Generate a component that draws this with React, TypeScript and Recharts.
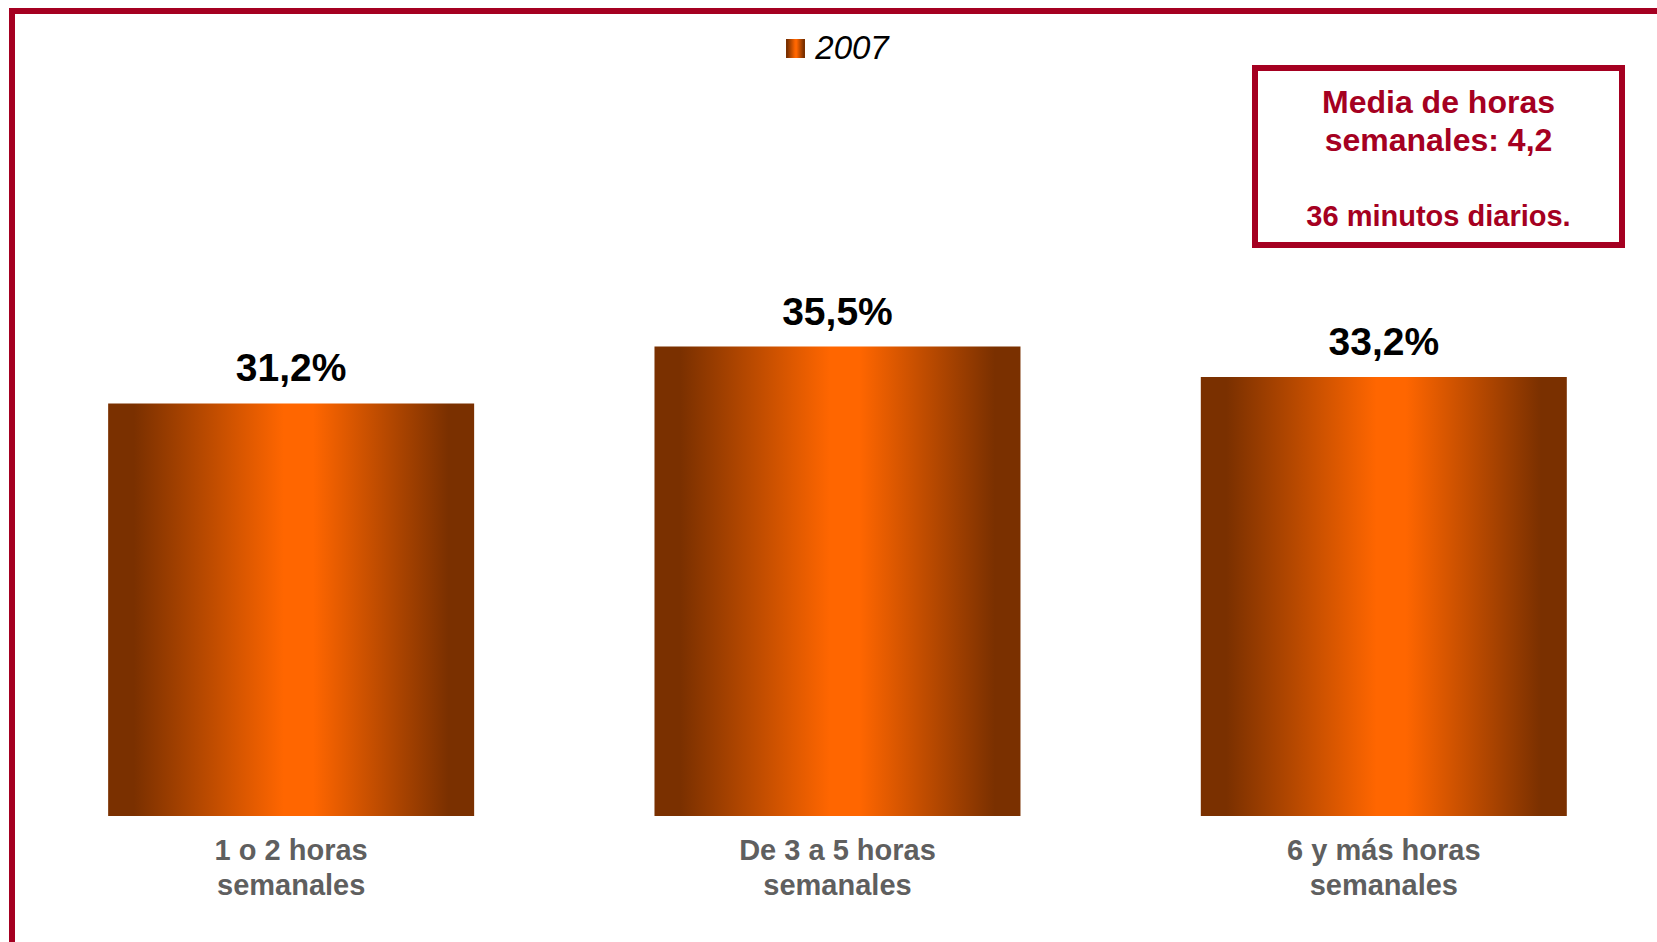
import React from "react";
import { BarChart, Bar, XAxis, YAxis, Legend, LabelList } from "recharts";

const categories = [
  "1 o 2 horas\nsemanales",
  "De 3 a 5 horas\nsemanales",
  "6 y más horas\nsemanales",
];
const share2007 = [31.2, 35.5, 33.2];
const seriesName = "2007";
const infoLines = ["Media de horas", "semanales: 4,2", "", "36 minutos diarios."];

const data = categories.map((categoria, i) => ({
  categoria,
  v2007: share2007[i],
}));

const FONT = '"Liberation Sans", Arial, Helvetica, sans-serif';
const RED = "#A50021";
const DARK = "#7A3000";
const ORANGE = "#FF6600";

const gradientStops = (
  <>
    <stop offset="0%" stopColor={DARK} />
    <stop offset="7%" stopColor={DARK} />
    <stop offset="48%" stopColor={ORANGE} />
    <stop offset="56%" stopColor={ORANGE} />
    <stop offset="93%" stopColor={DARK} />
    <stop offset="100%" stopColor={DARK} />
  </>
);

const CategoryTick = ({ x, y, payload }: any) => {
  const lines = String(payload.value).split("\n");
  return (
    <text
      x={x}
      y={y}
      textAnchor="middle"
      fill="#5F5F5F"
      fontFamily={FONT}
      fontWeight="bold"
      fontSize={29}
    >
      {lines.map((line, i) => (
        <tspan key={i} x={x} dy={i === 0 ? 44 : 35}>
          {line}
        </tspan>
      ))}
    </text>
  );
};

const LegendContent = () => (
  <div
    style={{
      display: "flex",
      alignItems: "center",
      justifyContent: "center",
      height: 36,
      fontFamily: FONT,
    }}
  >
    <svg width={19} height={19} style={{ marginRight: 10 }}>
      <defs>
        <linearGradient id="legendGrad" x1="0" y1="0" x2="1" y2="0">
          {gradientStops}
        </linearGradient>
      </defs>
      <rect width={19} height={19} fill="url(#legendGrad)" />
    </svg>
    <span style={{ fontSize: 33, fontStyle: "italic", lineHeight: "36px", color: "#000" }}>
      {seriesName}
    </span>
  </div>
);

const App: React.FC = () => {
  return (
    <div
      style={{
        position: "relative",
        width: 1657,
        height: 942,
        overflow: "hidden",
        background: "#fff",
      }}
    >
      <style>{`body { margin: 0; }`}</style>
      <div
        style={{
          position: "absolute",
          left: 9,
          top: 8,
          width: 1720,
          height: 1020,
          border: `6px solid ${RED}`,
          boxSizing: "border-box",
        }}
      />
      <BarChart
        width={1657}
        height={942}
        data={data}
        margin={{ top: 287, right: 0, bottom: 26, left: 18 }}
        barCategoryGap="16.5%"
        style={{ position: "absolute", left: 0, top: 0 }}
      >
        <defs>
          <linearGradient id="barGrad" x1="0" y1="0" x2="1" y2="0">
            {gradientStops}
          </linearGradient>
        </defs>
        <XAxis
          dataKey="categoria"
          axisLine={false}
          tickLine={false}
          tickSize={0}
          tickMargin={0}
          height={100}
          interval={0}
          tick={<CategoryTick />}
        />
        <YAxis hide domain={[0, 40]} />
        <Legend
          verticalAlign="middle"
          align="center"
          content={<LegendContent />}
          wrapperStyle={{ top: 30, left: 18, width: 1639 }}
        />
        <Bar
          dataKey="v2007"
          name={seriesName}
          fill="url(#barGrad)"
          isAnimationActive={false}
        >
          <LabelList
            dataKey="v2007"
            position="top"
            offset={22}
            formatter={(v: any) => `${Number(v).toFixed(1).replace(".", ",")}%`}
            fill="#000"
            fontFamily={FONT}
            fontWeight="bold"
            fontSize={39}
          />
        </Bar>
      </BarChart>
      <div
        style={{
          position: "absolute",
          left: 1252,
          top: 65,
          width: 373,
          height: 183,
          border: `6px solid ${RED}`,
          boxSizing: "border-box",
        }}
      />
      <div
        style={{
          position: "absolute",
          left: 1252,
          top: 83,
          width: 373,
          textAlign: "center",
          color: RED,
          fontFamily: FONT,
          fontWeight: "bold",
          lineHeight: "38px",
        }}
      >
        {infoLines.map((line, i) => (
          <div key={i} style={{ height: 38, fontSize: i < 2 ? 32 : 29 }}>
            {line}
          </div>
        ))}
      </div>
    </div>
  );
};

export default App;
